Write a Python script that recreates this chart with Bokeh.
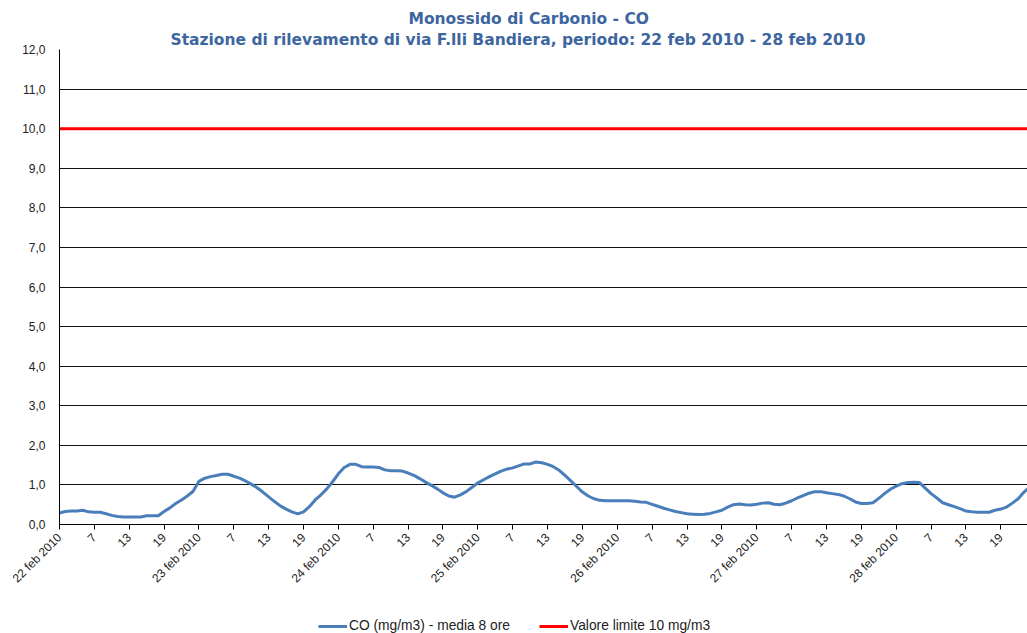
import math
from bokeh.plotting import figure
from bokeh.layouts import column
from bokeh.models import FixedTicker, Legend, LegendItem, Range1d, Title
from bokeh.embed import file_html
from bokeh.resources import INLINE

# ---- data ----
co_values = [
    0.29, 0.33, 0.34, 0.34, 0.36, 0.32, 0.31, 0.31, 0.27, 0.23, 0.20, 0.19,
    0.19, 0.19, 0.19, 0.22, 0.22, 0.22, 0.33, 0.42, 0.53, 0.62, 0.72, 0.84,
    1.09, 1.17, 1.21, 1.24, 1.27, 1.27, 1.22, 1.17, 1.10, 1.02, 0.93, 0.82,
    0.70, 0.58, 0.47, 0.39, 0.32, 0.27, 0.32, 0.45, 0.62, 0.75, 0.90, 1.08,
    1.28, 1.44, 1.52, 1.52, 1.46, 1.45, 1.45, 1.44, 1.38, 1.36, 1.36, 1.35,
    1.30, 1.24, 1.16, 1.07, 0.99, 0.90, 0.80, 0.72, 0.69, 0.75, 0.83, 0.94,
    1.05, 1.13, 1.21, 1.28, 1.35, 1.40, 1.43, 1.48, 1.53, 1.53, 1.58, 1.56,
    1.52, 1.46, 1.37, 1.24, 1.10, 0.96, 0.82, 0.72, 0.65, 0.61, 0.60, 0.60,
    0.60, 0.60, 0.60, 0.59, 0.57, 0.56, 0.51, 0.46, 0.41, 0.37, 0.33, 0.30,
    0.27, 0.26, 0.25, 0.26, 0.28, 0.32, 0.36, 0.44, 0.50, 0.52, 0.50, 0.49,
    0.51, 0.54, 0.55, 0.51, 0.50, 0.54, 0.60, 0.67, 0.73, 0.79, 0.83, 0.83,
    0.80, 0.78, 0.76, 0.72, 0.65, 0.57, 0.53, 0.53, 0.55, 0.66, 0.78, 0.89,
    0.97, 1.03, 1.06, 1.07, 1.06, 0.92, 0.78, 0.67, 0.55, 0.50, 0.45, 0.40,
    0.34, 0.32, 0.31, 0.31, 0.31, 0.36, 0.39, 0.44, 0.54, 0.65, 0.82, 0.95,
]
hours = list(range(len(co_values)))
limit_values = [10.0] * len(co_values)

tick_labels = [
    "22 feb 2010", "7", "13", "19",
    "23 feb 2010", "7", "13", "19",
    "24 feb 2010", "7", "13", "19",
    "25 feb 2010", "7", "13", "19",
    "26 feb 2010", "7", "13", "19",
    "27 feb 2010", "7", "13", "19",
    "28 feb 2010", "7", "13", "19",
]
y_ticks = list(range(0, 13))
y_labels = ["0,0", "1,0", "2,0", "3,0", "4,0", "5,0", "6,0", "7,0", "8,0",
            "9,0", "10,0", "11,0", "12,0"]

series_names = ["CO (mg/m3) - media 8 ore", "Valore limite 10 mg/m3"]
title_lines = ["Monossido di Carbonio - CO",
               "Stazione di rilevamento di via F.lli Bandiera, periodo: 22 feb 2010 - 28 feb 2010"]

CO_COLOR = "#4A7EBB"
LIM_COLOR = "#FF0000"
TITLE_COLOR = "#3D66A0"

# ---- main figure ----
p = figure(width=1027, height=603, output_backend="svg", toolbar_location=None,
           x_range=Range1d(0, 166.6), y_range=Range1d(0, 12),
           min_border_left=59, min_border_right=0, min_border_top=49,
           min_border_bottom=79)
p.outline_line_color = None
p.background_fill_color = "white"
p.border_fill_color = "white"

# titles (later-added sits farther from the frame)
p.add_layout(Title(text=title_lines[1], align="left", offset=111, standoff=2,
                   text_line_height=0.85,
                   text_font="DejaVu Sans", text_font_style="bold",
                   text_font_size="15.5px", text_color=TITLE_COLOR), "above")
p.add_layout(Title(text=title_lines[0], align="left", offset=349, standoff=0,
                   text_line_height=0.85,
                   text_font="DejaVu Sans", text_font_style="bold",
                   text_font_size="15.5px", text_color=TITLE_COLOR), "above")

tick_positions = [6 * k for k in range(len(tick_labels))]

p.xgrid.visible = False
p.ygrid.ticker = FixedTicker(ticks=y_ticks)
p.ygrid.grid_line_color = "#111111"
p.ygrid.grid_line_width = 1

ya = p.yaxis[0]
ya.ticker = FixedTicker(ticks=y_ticks)
ya.major_label_overrides = {t: lab for t, lab in zip(y_ticks, y_labels)}
ya.axis_line_color = "#000000"
ya.major_tick_out = 0
ya.major_tick_in = 0
ya.minor_tick_line_color = None
ya.major_label_standoff = 14
ya.major_label_text_font = "Liberation Sans"
ya.major_label_text_font_size = "12px"
ya.major_label_text_color = "#222222"

xa = p.xaxis[0]
xa.ticker = FixedTicker(ticks=tick_positions)
xa.major_label_overrides = {t: lab for t, lab in zip(tick_positions, tick_labels)}
xa.major_label_orientation = math.pi / 4
xa.axis_line_color = "#000000"
xa.major_tick_line_color = "#000000"
xa.major_tick_out = 5
xa.major_tick_in = 0
xa.minor_tick_line_color = None
xa.major_label_standoff = 6
xa.major_label_text_font = "Liberation Sans"
xa.major_label_text_font_size = "12px"
xa.major_label_text_color = "#222222"

p.line(hours, limit_values, line_color=LIM_COLOR, line_width=3)
p.line(hours, co_values, line_color=CO_COLOR, line_width=3)

# ---- legend strip (separate small figure so the legend is not clipped) ----
lg = figure(width=1027, height=30, output_backend="svg", toolbar_location=None,
            x_range=Range1d(0, 166.6), y_range=Range1d(100, 101),
            min_border=0)
lg.axis.visible = False
lg.grid.visible = False
lg.outline_line_color = None
lg.background_fill_color = "white"
lg.border_fill_color = "white"
lr_co = lg.line(hours, co_values, line_color=CO_COLOR, line_width=3)
lr_lim = lg.line(hours, limit_values, line_color=LIM_COLOR, line_width=3)

legend = Legend(
    items=[LegendItem(label=series_names[0], renderers=[lr_co]),
           LegendItem(label=series_names[1], renderers=[lr_lim])],
    orientation="horizontal", location=(259, 0),
    border_line_color=None, background_fill_alpha=0,
    glyph_width=29, glyph_height=12, label_height=14,
    label_text_font="Liberation Sans", label_text_font_size="13.8px",
    label_text_color="#222222",
    spacing=29, padding=2, label_standoff=2, margin=0,
)
lg.add_layout(legend)

layout = column(p, lg, spacing=0)
open("out.html", "w").write(file_html(layout, INLINE))
